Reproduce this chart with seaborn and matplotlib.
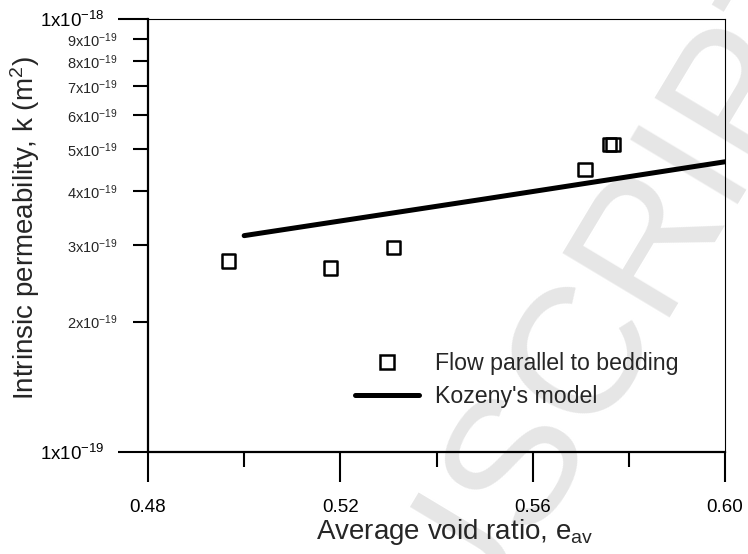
import math
import matplotlib
matplotlib.use("Agg")
import matplotlib.pyplot as plt
from matplotlib.lines import Line2D
from matplotlib.ticker import FixedLocator, FuncFormatter, NullFormatter
import seaborn as sns

# Measured permeability, flow parallel to bedding
void_ratio = [0.4968, 0.5179, 0.5310, 0.5709, 0.5759, 0.5767]
permeability = [2.76e-19, 2.66e-19, 2.97e-19, 4.50e-19, 5.12e-19, 5.12e-19]

# Kozeny's model prediction
kozeny_e = [0.500, 0.550, 0.600]
kozeny_k = [3.16e-19, 3.84e-19, 4.68e-19]

x_major = [0.48, 0.52, 0.56, 0.60]
x_minor = [0.50, 0.54, 0.58]
y_major = [1e-19, 1e-18]
y_minor = [2e-19, 3e-19, 4e-19, 5e-19, 6e-19, 7e-19, 8e-19, 9e-19]

sns.set_style("ticks")
plt.rcParams["font.family"] = ["Liberation Sans", "DejaVu Sans"]
plt.rcParams["mathtext.fontset"] = "custom"
plt.rcParams["mathtext.rm"] = "Liberation Sans"
plt.rcParams["mathtext.it"] = "Liberation Sans:italic"
plt.rcParams["mathtext.default"] = "regular"

fig = plt.figure(figsize=(7.48, 5.54), dpi=100)
fig.patch.set_facecolor("white")

# faint diagonal watermark behind the chart
fig.text(1.115, 1.085, "ACCEPTED MANUSCRIPT", rotation=59, rotation_mode="anchor",
         ha="right", va="center", fontsize=130, color="#e6e6e6", zorder=-5)

ax = fig.add_axes([148 / 748, 1 - 452 / 554, 577 / 748, 433 / 554])
ax.patch.set_alpha(0)

sns.lineplot(x=kozeny_e, y=kozeny_k, ax=ax, color="black", linewidth=3.6,
             solid_capstyle="round")
sns.scatterplot(x=void_ratio, y=permeability, ax=ax, marker="s", s=90,
                color="black", linewidth=1.8, zorder=3)
pts = ax.collections[-1]
pts.set_facecolor("none")
pts.set_edgecolor("black")

ax.set_yscale("log")
ax.set_xlim(0.48, 0.60)
ax.set_ylim(1e-19, 1e-18)

ax.xaxis.set_major_locator(FixedLocator(x_major))
ax.xaxis.set_minor_locator(FixedLocator(x_minor))
ax.xaxis.set_major_formatter(FuncFormatter(lambda v, p: f"{v:.2f}"))
ax.xaxis.set_minor_formatter(NullFormatter())


def sci(v, p):
    exp = int(math.floor(math.log10(v) + 1e-9))
    mant = int(round(v / 10 ** exp))
    return rf"${mant}\mathrm{{x}}10^{{{exp}}}$"


ax.yaxis.set_major_locator(FixedLocator(y_major))
ax.yaxis.set_minor_locator(FixedLocator(y_minor))
ax.yaxis.set_major_formatter(FuncFormatter(sci))
ax.yaxis.set_minor_formatter(FuncFormatter(sci))

ax.tick_params(axis="both", which="major", direction="out", length=21.5,
               width=1.5, color="black", labelcolor="black")
ax.tick_params(axis="both", which="minor", direction="out", length=11,
               width=1.5, color="black")
ax.tick_params(axis="x", which="major", labelsize=13.5, pad=12)
ax.tick_params(axis="y", which="major", labelsize=13.5, pad=10)
ax.tick_params(axis="y", which="minor", labelsize=10.5, pad=11)

for side in ["left", "bottom"]:
    ax.spines[side].set_linewidth(1.6)
for side in ["top", "right"]:
    ax.spines[side].set_linewidth(0.8)
for s in ax.spines.values():
    s.set_color("black")
    s.set_visible(True)

ax.set_xlabel(r"Average void ratio, e$_{\mathrm{av}}$", fontsize=20)
ax.set_ylabel(r"Intrinsic permeability, k (m$^{2}$)", fontsize=20)
ax.xaxis.set_label_coords(0.532, -0.150)
ax.yaxis.set_label_coords(-0.184, 0.517)

handles = [
    Line2D([], [], linestyle="none", marker="s", markersize=9.5,
           markerfacecolor="none", markeredgecolor="black", markeredgewidth=1.8),
    Line2D([], [], color="black", linewidth=3.6, solid_capstyle="round"),
]
ax.legend(handles, ["Flow parallel to bedding", "Kozeny's model"],
          loc="upper left", bbox_to_anchor=(0.3588, 0.231), frameon=False,
          fontsize=16.7, handlelength=2.75, handletextpad=0.7,
          labelspacing=0.42, borderpad=0, borderaxespad=0)

fig.savefig("out.png", dpi=100, facecolor="white")
